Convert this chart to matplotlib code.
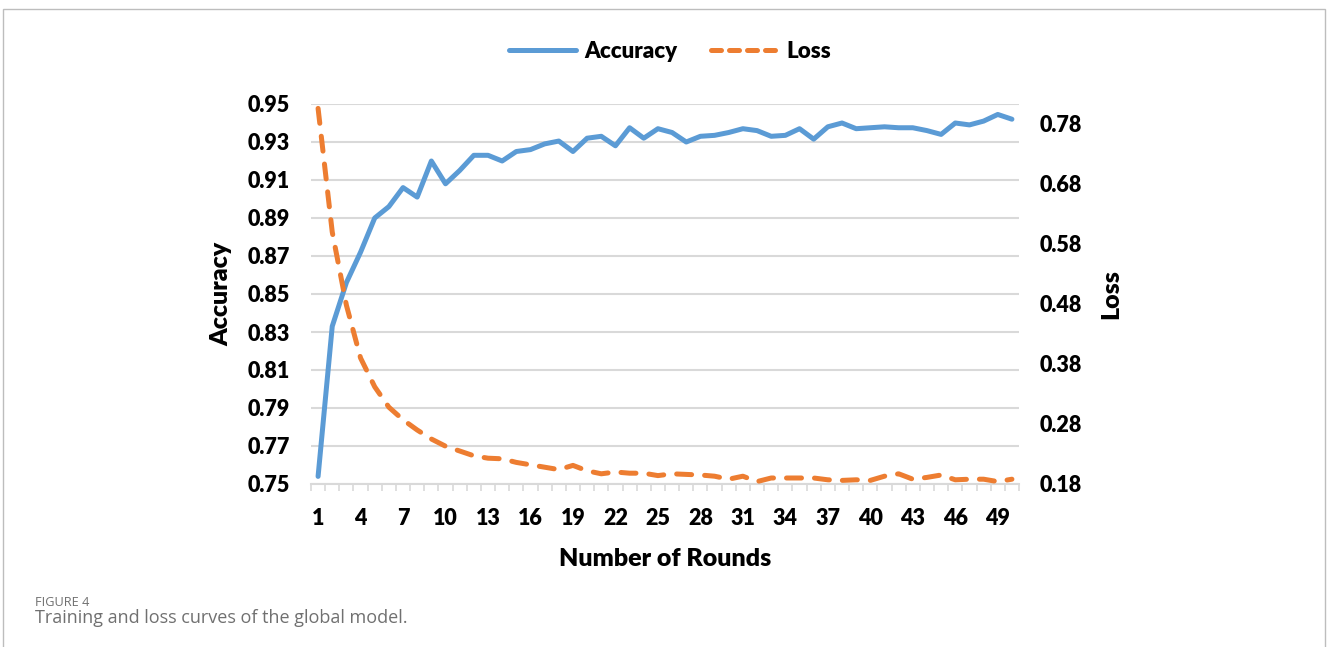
import matplotlib

matplotlib.use("Agg")
import matplotlib.pyplot as plt
from matplotlib.lines import Line2D
from matplotlib.patches import Rectangle

# ---- data -----------------------------------------------------------------
rounds = list(range(1, 51))
accuracy = [
    0.754, 0.833, 0.856, 0.872, 0.890, 0.896, 0.906, 0.901, 0.920, 0.908,
    0.915, 0.923, 0.923, 0.920, 0.925, 0.926, 0.929, 0.9305, 0.925, 0.932,
    0.933, 0.928, 0.9375, 0.932, 0.937, 0.935, 0.930, 0.933, 0.9335, 0.935,
    0.937, 0.936, 0.933, 0.9335, 0.937, 0.9315, 0.938, 0.940, 0.937, 0.9375,
    0.938, 0.9375, 0.9375, 0.936, 0.934, 0.940, 0.939, 0.941, 0.9445, 0.942,
]
loss = [
    0.806, 0.600, 0.478, 0.390, 0.342, 0.308, 0.287, 0.270, 0.255, 0.243,
    0.235, 0.227, 0.223, 0.222, 0.216, 0.212, 0.208, 0.204, 0.211, 0.202,
    0.197, 0.200, 0.198, 0.198, 0.194, 0.197, 0.196, 0.195, 0.193, 0.188,
    0.193, 0.184, 0.190, 0.190, 0.190, 0.190, 0.187, 0.186, 0.187, 0.186,
    0.193, 0.197, 0.188, 0.191, 0.195, 0.187, 0.188, 0.188, 0.184, 0.188,
]
acc_ticks = [0.75, 0.77, 0.79, 0.81, 0.83, 0.85, 0.87, 0.89, 0.91, 0.93, 0.95]
loss_ticks = [0.18, 0.28, 0.38, 0.48, 0.58, 0.68, 0.78]
x_ticks = list(range(1, 50, 3))

BLUE = "#5B9BD5"
ORANGE = "#ED7D31"
GRID = "#D9D9D9"
FONT = "Lato"
WEIGHT = "heavy"
CAPTION = "#707070"

plt.rcParams["font.family"] = [FONT, "DejaVu Sans"]

W, H = 1328, 647
fig = plt.figure(figsize=(W / 100, H / 100), dpi=100)

# thin page frame around the figure panel
fig.add_artist(Rectangle((3 / W, -0.01), (1325 - 3) / W, 1 - 9 / H + 0.01,
                         transform=fig.transFigure, fill=False,
                         ec="#BDBDBD", lw=1.0))

ax = fig.add_axes([311 / W, 1 - 484 / H, (1019 - 311) / W, (484 - 104) / H])
ax2 = ax.twinx()

ax.plot(rounds, accuracy, color=BLUE, lw=3.6, solid_capstyle="round",
        solid_joinstyle="round", zorder=3)
ax2.plot(rounds, loss, color=ORANGE, lw=3.6, dashes=(3.0, 2.6),
         dash_capstyle="round", zorder=3)

ax.set_xlim(0.5, 50.5)
ax.set_ylim(0.75, 0.95)
ax2.set_ylim(0.18, 0.18 + 380 / 600)

ax.set_yticks(acc_ticks)
ax.set_yticklabels([f"{v:.2f}" for v in acc_ticks], fontweight=WEIGHT)
ax2.set_yticks(loss_ticks)
ax2.set_yticklabels([f"{v:.2f}" for v in loss_ticks], fontweight=WEIGHT)
ax.set_xticks(x_ticks)
ax.set_xticklabels([str(v) for v in x_ticks], fontweight=WEIGHT)
ax.set_xticks([i + 0.5 for i in range(0, 51)], minor=True)

for a in (ax, ax2):
    for s in a.spines.values():
        s.set_visible(False)
ax.spines["bottom"].set_visible(True)
ax.spines["bottom"].set_color(GRID)
ax.spines["bottom"].set_linewidth(1.5)

ax.grid(axis="y", color=GRID, lw=1.5, zorder=0)
ax.set_axisbelow(True)

ax.tick_params(axis="y", length=0, pad=15, labelsize=15.5)
ax2.tick_params(axis="y", length=0, pad=15, labelsize=15.5)
ax.tick_params(axis="x", which="major", length=0, pad=17, labelsize=15.5)
ax.tick_params(axis="x", which="minor", length=5, width=1.2, color=GRID)

ax.set_ylabel("Accuracy", fontsize=18, fontweight=WEIGHT, labelpad=11)
ax2.set_ylabel("Loss", fontsize=18, fontweight=WEIGHT, labelpad=13)
ax.set_xlabel("Number of Rounds", fontsize=18, fontweight=WEIGHT, labelpad=14)

# legend above the plot area
handles = [
    Line2D([], [], color=BLUE, lw=3.6, solid_capstyle="round"),
    Line2D([], [], color=ORANGE, lw=3.6, dashes=(2.0, 1.6), dash_capstyle="round"),
]
fig.legend(handles, ["Accuracy", "Loss"], loc="center", ncol=2,
           bbox_to_anchor=(670 / W, 1 - 51 / H), frameon=False,
           prop={"family": FONT, "weight": WEIGHT, "size": 16},
           handlelength=3.0, handletextpad=0.4, columnspacing=1.5)

# caption
fig.text(35 / W, 1 - 603 / H, "FIGURE 4", fontsize=9.2, color=CAPTION,
         ha="left", va="center", fontweight="normal",
         family=["Open Sans", "DejaVu Sans"])
fig.text(35 / W, 1 - 618 / H, "Training and loss curves of the global model.",
         fontsize=13, color=CAPTION, ha="left", va="center", fontweight="normal",
         family=["Open Sans", "DejaVu Sans"])

fig.savefig("out.png", dpi=100, facecolor="white")
